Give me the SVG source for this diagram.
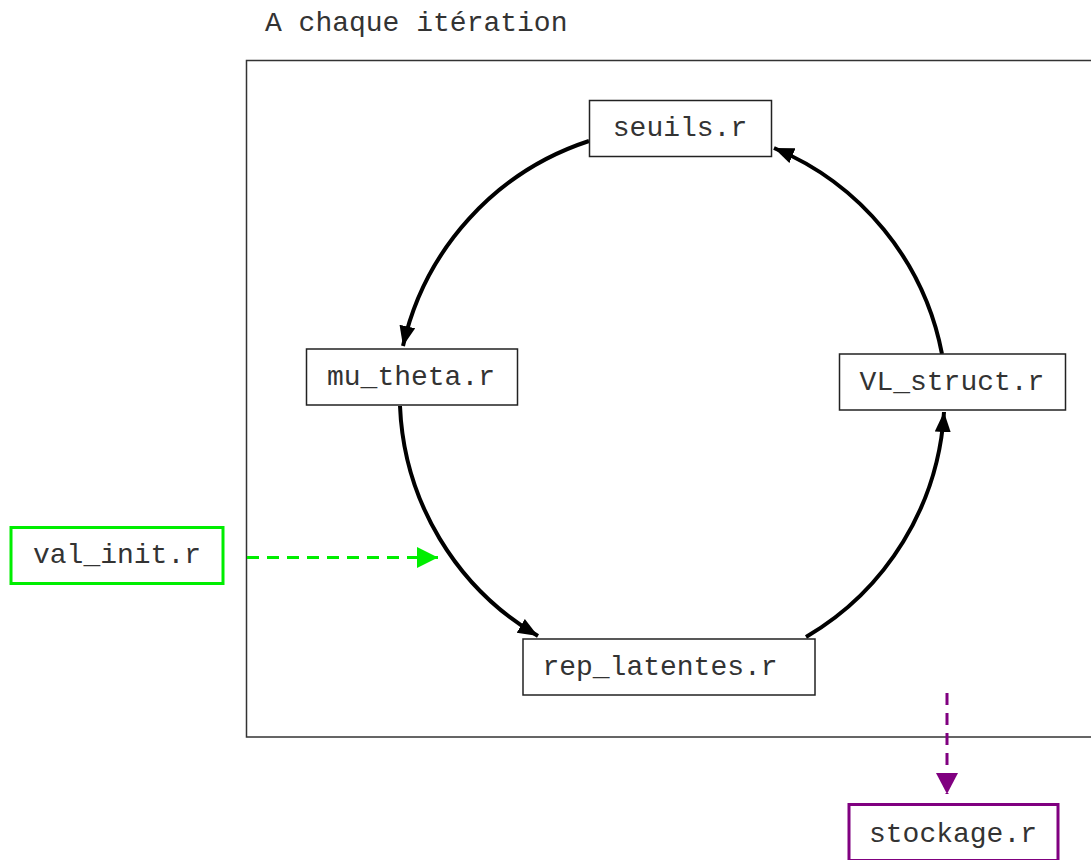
<svg xmlns="http://www.w3.org/2000/svg" width="1091" height="860" viewBox="0 0 1091 860">
<style>
.t{font-family:"Liberation Mono","Courier New",monospace;font-size:28px;fill:#333;text-anchor:middle}
.box{fill:#fff;stroke:#222;stroke-width:1.5}
.arc{fill:none;stroke:#000;stroke-width:4}
</style>
<defs>
<marker id="ab" markerUnits="userSpaceOnUse" markerWidth="22" markerHeight="18" refX="20" refY="8" orient="auto"><path d="M0,0 L20,8 L0,16 Z" fill="#000"/></marker>
<marker id="ag" markerUnits="userSpaceOnUse" markerWidth="24" markerHeight="24" refX="21" refY="10.5" orient="auto"><path d="M0,0 L21,10.5 L0,21 Z" fill="#00ee00"/></marker>
<marker id="ap" markerUnits="userSpaceOnUse" markerWidth="24" markerHeight="24" refX="21" refY="11" orient="auto"><path d="M0,0 L21,11 L0,22 Z" fill="#800080"/></marker>
</defs>
<rect width="1091" height="860" fill="#fff"/>
<text x="265" y="31" class="t" style="text-anchor:start">A chaque itération</text>
<rect x="246.5" y="60.5" width="860" height="676.5" fill="none" stroke="#333" stroke-width="1.5"/>
<g id="connectors">
<path class="arc" d="M 589,141 A 280 280 0 0 0 403,346" marker-end="url(#ab)"/>
<path class="arc" d="M 400,406 A 280 280 0 0 0 538,636" marker-end="url(#ab)"/>
<path class="arc" d="M 806,637 A 280 280 0 0 0 944,412" marker-end="url(#ab)"/>
<path class="arc" d="M 942,354 A 280 280 0 0 0 774,148" marker-end="url(#ab)"/>
<path d="M 247,557.5 L 438,557.5" fill="none" stroke="#00ee00" stroke-width="3" stroke-dasharray="12,8" marker-end="url(#ag)"/>
<path d="M 947,693 L 947,794" fill="none" stroke="#800080" stroke-width="3" stroke-dasharray="12,8" marker-end="url(#ap)"/>
</g>
<g id="seuils"><rect class="box" x="589.5" y="100.5" width="182" height="56"/><text x="680" y="136" class="t">seuils.r</text></g>
<g id="mu_theta"><rect class="box" x="306.5" y="349" width="211" height="56"/><text x="411" y="385" class="t">mu_theta.r</text></g>
<g id="VL_struct"><rect class="box" x="839.5" y="354" width="226" height="56"/><text x="952" y="390" class="t">VL_struct.r</text></g>
<g id="rep_latentes"><rect class="box" x="523" y="639" width="292" height="56"/><text x="660" y="675" class="t">rep_latentes.r</text></g>
<g id="val_init"><rect x="11" y="527.5" width="212" height="56" fill="#fff" stroke="#00ee00" stroke-width="3"/><text x="117" y="563" class="t">val_init.r</text></g>
<g id="stockage"><rect x="849" y="804.5" width="209" height="56" fill="#fff" stroke="#800080" stroke-width="3"/><text x="953" y="842" class="t">stockage.r</text></g>
</svg>
